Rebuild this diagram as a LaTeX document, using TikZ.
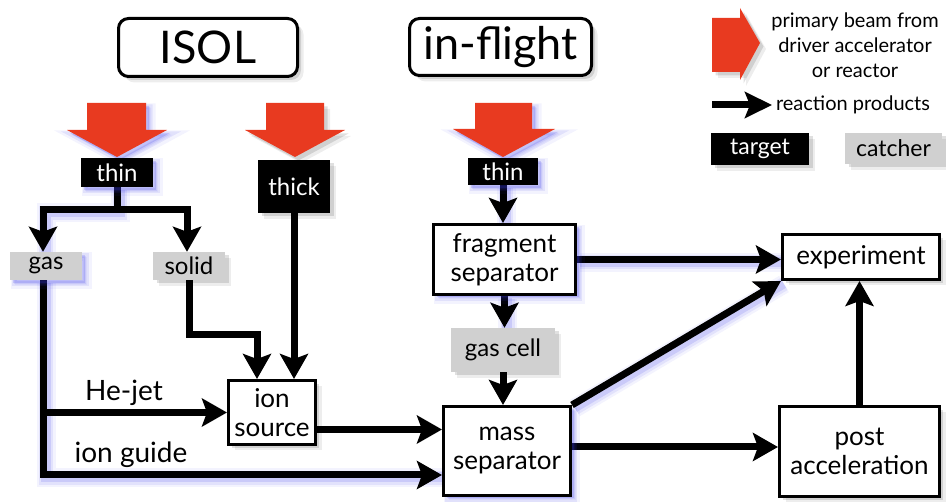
\documentclass[tikz,border=0pt]{standalone}
\usepackage{fontspec}
\setmainfont{Lato}
\usetikzlibrary{arrows.meta,calc}
\definecolor{beamred}{HTML}{E83A20}
\definecolor{catchgray}{HTML}{D0D0D0}
\definecolor{glowblue}{HTML}{3A3AE8}
\pgfdeclarelayer{background}
\pgfsetlayers{background,main}

\tikzset{
  % soft grey drop shadow, down and to the right
  softshadow/.style={
    preaction={fill=black,opacity=.07,transform canvas={shift={(6pt,-6pt)}}},
    preaction={fill=black,opacity=.12,transform canvas={shift={(3.5pt,-3.5pt)}}}},
  % blue halo for the highlighted route
  boxglow/.style={
    preaction={draw=glowblue,fill=glowblue,line width=9pt,opacity=.06,transform canvas={shift={(5pt,-5pt)}}},
    preaction={draw=glowblue,fill=glowblue,line width=5pt,opacity=.10,transform canvas={shift={(4pt,-4pt)}}},
    preaction={fill=glowblue,opacity=.18,transform canvas={shift={(3pt,-3pt)}}}},
  lineglow/.style={
    preaction={draw=glowblue,-,line width=19pt,opacity=.06,transform canvas={shift={(3pt,-3pt)}}},
    preaction={draw=glowblue,-,line width=14pt,opacity=.09,transform canvas={shift={(3pt,-3pt)}}},
    preaction={draw=glowblue,-,line width=10pt,opacity=.14,transform canvas={shift={(2.5pt,-2.5pt)}}}},
  flow/.style={line width=7pt,-{Stealth[length=25pt,width=28pt,inset=5pt]}},
  labeltext/.style={font=\fontsize{28}{30}\selectfont},
  stage/.style={draw,line width=3pt,fill=white,inner sep=0pt,align=center,
    font=\fontsize{26}{29}\selectfont},
  tgt/.style={fill=black,text=white,inner sep=0pt,align=center,
    font=\fontsize{24}{26}\selectfont},
  catch/.style={fill=catchgray,inner sep=0pt,align=center,
    font=\fontsize{24}{26}\selectfont},
  heading/.style={draw,line width=3pt,fill=white,rounded corners=10pt,inner sep=0pt,
    font=\fontsize{45}{50}\selectfont},
  beam/.style={fill=beamred},
}

\begin{document}
\begin{tikzpicture}[x=1pt,y=-1pt]
\useasboundingbox (0,0) rectangle (946,502);

% headings
\node[heading,softshadow,minimum width=179,minimum height=58] (isol) at (208,47.5) {ISOL};
\node[heading,softshadow,minimum width=182,minimum height=57] (inflight) at (500.5,47) {in-flight};

% primary beams
\path[beam,boxglow] (87,103) -- (146,103) -- (146,130) -- (167,130) -- (117,157) -- (67,130) -- (87,130) -- cycle;
\path[beam,softshadow] (266,103) -- (324,103) -- (324,130) -- (345,130) -- (295,157) -- (245,130) -- (266,130) -- cycle;
\path[beam,boxglow] (475,103) -- (532,103) -- (532,129) -- (555,129) -- (503,157) -- (453,129) -- (475,129) -- cycle;

% targets
\node[tgt,boxglow,minimum width=72,minimum height=29] (thinA) at (117,172.5) {thin};
\node[tgt,softshadow,minimum width=72,minimum height=53] (thick) at (294,186.5) {thick};
\node[tgt,boxglow,minimum width=70,minimum height=27] (thinB) at (503,171.5) {thin};

% catchers
\node[catch,boxglow,minimum width=72,minimum height=28] (gas) at (46,266) {gas};
\node[catch,softshadow,minimum width=72,minimum height=28] (solid) at (189,266) {solid};
\node[catch,softshadow,minimum width=104,minimum height=44] (gascell) at (503,350) {gas cell};

% stages
\node[stage,softshadow,minimum width=87,minimum height=64] (ionsrc) at (272,412.5) {ion\\source};
\node[stage,boxglow,minimum width=142,minimum height=70] (fragsep) at (504.5,259.5) {fragment\\separator};
\node[stage,boxglow,minimum width=127,minimum height=89] (masssep) at (507,451) {mass\\separator};
\node[stage,softshadow,minimum width=157,minimum height=45] (experiment) at (861,257) {experiment};
\node[stage,softshadow,minimum width=160,minimum height=90] (post) at (859.5,451.5) {post\\acceleration};

% route labels
\node[labeltext] (hejet) at (124,393) {He-jet};
\node[labeltext] (ionguide) at (131,455) {ion guide};

% branch points
\coordinate (fork) at (117,210);
\coordinate (rail) at ([xshift=-3pt]gas.south);
\coordinate (sbend) at (257,335);

\begin{pgfonlayer}{background}
  % ISOL
  \draw[flow,lineglow] (thinA.south) -- (fork) -| ([xshift=-3pt]gas.north);
  \draw[flow] (fork) -| ([xshift=-2pt]solid.north);
  \draw[flow,lineglow] (rail) |- ([yshift=-24pt]masssep.west);
  \draw[flow] (rail |- ionsrc.west) -- (ionsrc.west);
  \draw[flow] (solid.south) |- (sbend) -- (sbend |- ionsrc.north);
  \draw[flow] (thick.south) -- (thick.south |- ionsrc.north);
  \draw[flow] ([yshift=-17pt]ionsrc.east) -- ([yshift=-17pt]ionsrc.east -| masssep.west);
  % in-flight
  \draw[flow,lineglow] (thinB.south) -- (thinB.south |- fragsep.north);
  \draw[flow,lineglow] (fragsep.east) -- (fragsep.east -| experiment.west);
  \draw[flow,lineglow] (fragsep.south) -- (fragsep.south |- gascell.north);
  \draw[flow] (gascell.south) -- (gascell.south |- masssep.north);
  \draw[flow,lineglow] (masssep.north east) -- (experiment.south west);
  \draw[flow] ([yshift=4pt]masssep.east) -- ([yshift=4pt]masssep.east -| post.west);
  \draw[flow] (post.north) -- (post.north |- experiment.south);
\end{pgfonlayer}

% legend
\path[beam,softshadow] (712,18) -- (740,18) -- (740,8) -- (760,43) -- (740,80) -- (740,72) -- (712,72) -- cycle;
\node[align=center,font=\fontsize{20}{25}\selectfont] (beamkey) at (855,45) {primary beam from\\driver accelerator\\or reactor};
\coordinate (keyA) at (712,105);
\coordinate (keyB) at (772,105);
\draw[line width=7pt,-{Stealth[length=27pt,width=26pt,inset=5pt]}] (keyA) -- (keyB);
\node[font=\fontsize{20}{24}\selectfont] (prodkey) at (853,105) {reaction products};
\node[tgt,softshadow,minimum width=98,minimum height=32,font=\fontsize{23}{26}\selectfont] (tgtkey) at (760,149) {target};
\node[catch,softshadow,minimum width=97,minimum height=31,font=\fontsize{23}{26}\selectfont] (catchkey) at (893.5,148.5) {catcher};
\end{tikzpicture}
\end{document}
